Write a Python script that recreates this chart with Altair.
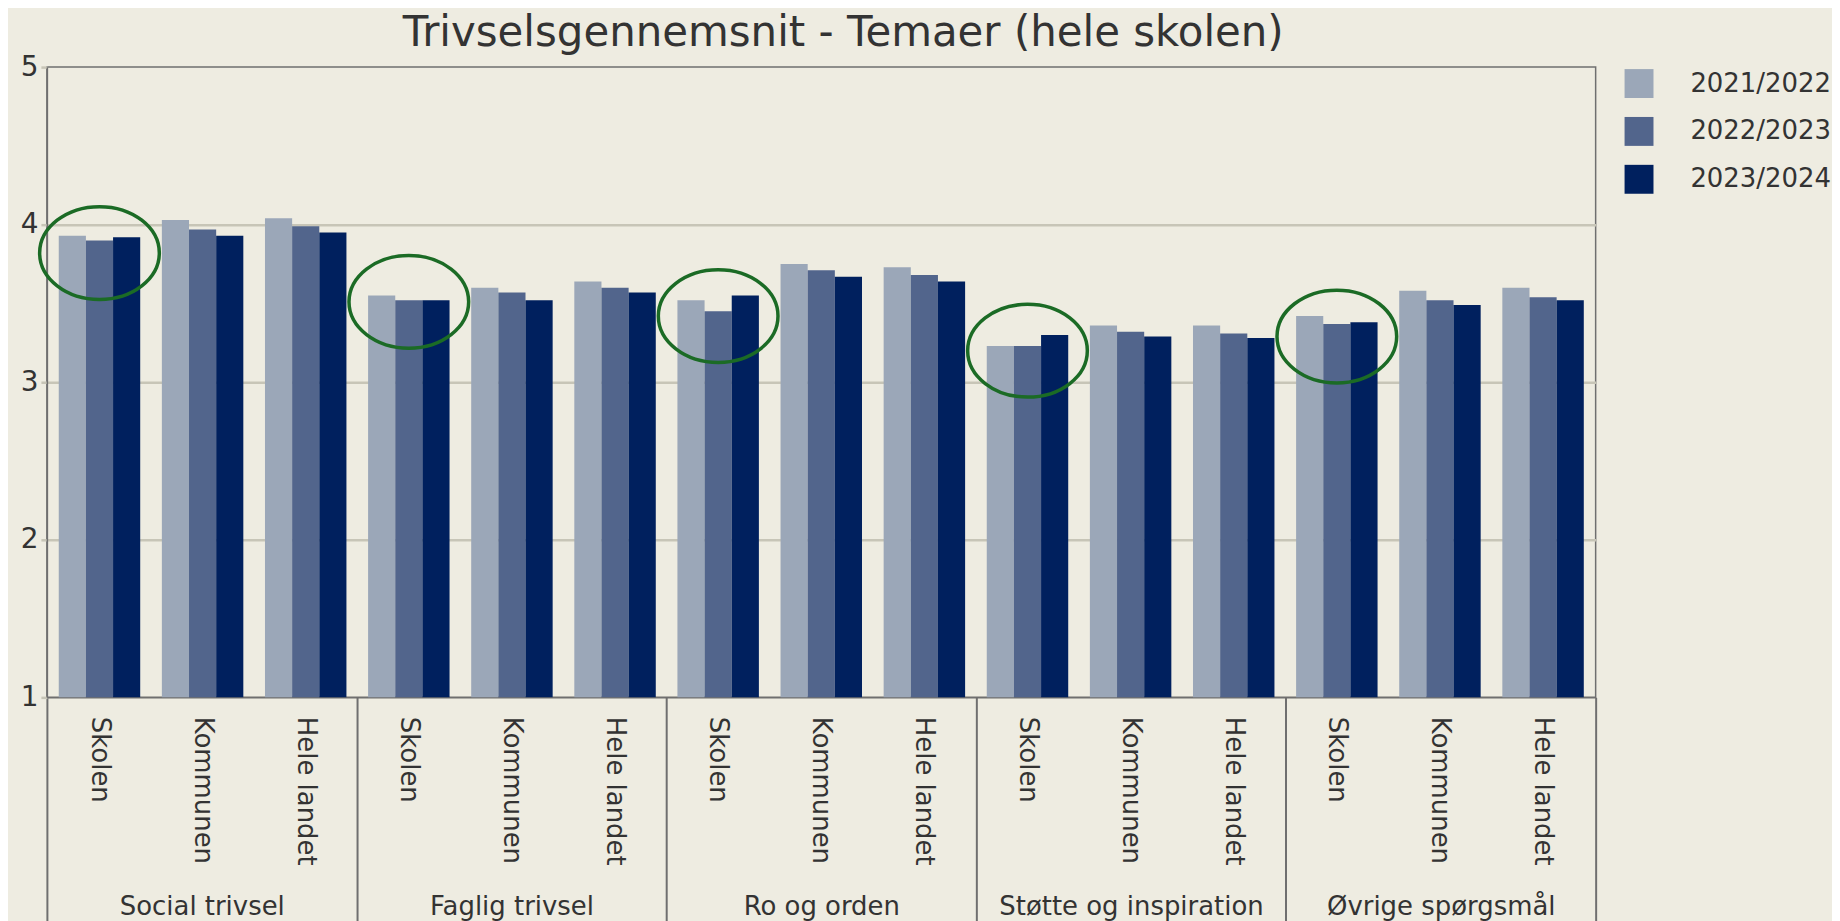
import altair as alt
import pandas as pd

groups = ["Social trivsel", "Faglig trivsel", "Ro og orden", "Støtte og inspiration", "Øvrige spørgsmål"]
subgroups = ["Skolen", "Kommunen", "Hele landet"]
years = ["2021/2022", "2022/2023", "2023/2024"]

# values per group: one [2021/2022, 2022/2023, 2023/2024] triple per subgroup
social = [[3.93, 3.90, 3.92], [4.03, 3.97, 3.93], [4.04, 3.99, 3.95]]
faglig = [[3.55, 3.52, 3.52], [3.60, 3.57, 3.52], [3.64, 3.60, 3.57]]
ro = [[3.52, 3.45, 3.55], [3.75, 3.71, 3.67], [3.73, 3.68, 3.64]]
stotte = [[3.23, 3.23, 3.30], [3.36, 3.32, 3.29], [3.36, 3.31, 3.28]]
ovrige = [[3.42, 3.37, 3.38], [3.58, 3.52, 3.49], [3.60, 3.54, 3.52]]

# green annotation ellipses around the "Skolen" clusters (centre value)
circle_values = [3.82, 3.51, 3.42, 3.20, 3.29]

colors = ["#9BA7B8", "#52658C", "#00205E"]
BG = "#EEECE1"
GRID = "#C7C5B7"
DARK = "#6F6F6F"
TXT = "#333333"
FONT = "DejaVu Sans"

rows = []
for g, vals in zip(groups, [social, faglig, ro, stotte, ovrige]):
    for s, triple in zip(subgroups, vals):
        for yr, v in zip(years, triple):
            rows.append({"group": g, "sub": s, "key": g + "|" + s, "year": yr, "value": v})
df = pd.DataFrame(rows)
keys = [g + "|" + s for g in groups for s in subgroups]

circ_df = pd.DataFrame({"key": [g + "|Skolen" for g in groups], "value": circle_values})
grp_df = pd.DataFrame({"group": groups})

W, H = 1553, 632

xscale = alt.Scale(domain=keys, paddingInner=0.21, paddingOuter=0.115)
yscale = alt.Scale(domain=[1, 5], nice=False, zero=False)

bars = alt.Chart(df).mark_bar().encode(
    x=alt.X(
        "key:N",
        scale=xscale,
        title=None,
        axis=alt.Axis(
            labelExpr="split(datum.value, '|')[1]",
            labelAngle=90,
            labelAlign="left",
            labelBaseline="middle",
            labelFontSize=26,
            labelPadding=19,
            labelFont=FONT,
            labelColor=TXT,
            labelLimit=0,
            ticks=False,
            grid=False,
            domainColor=DARK,
            domainWidth=1.5,
        ),
    ),
    xOffset=alt.XOffset("year:N", sort=years, scale=alt.Scale(paddingInner=0, paddingOuter=0)),
    y=alt.Y(
        "value:Q",
        scale=yscale,
        title=None,
        axis=alt.Axis(
            values=[1, 2, 3, 4, 5],
            format="d",
            labelFontSize=28,
            labelFont=FONT,
            labelColor=TXT,
            labelPadding=3,
            tickSize=6,
            tickColor=GRID,
            tickWidth=2.5,
            domainColor=DARK,
            domainWidth=1.5,
            grid=True,
            gridColor={"condition": {"test": "datum.value === 5 || datum.value === 1", "value": "rgba(0,0,0,0)"}, "value": GRID},
            gridWidth=2.5,
        ),
    ),
    y2=alt.datum(1),
    color=alt.Color(
        "year:N",
        sort=years,
        scale=alt.Scale(domain=years, range=colors),
        legend=alt.Legend(
            title=None,
            orient="none",
            legendX=1582,
            legendY=2,
            symbolType="square",
            symbolSize=841,
            symbolStrokeWidth=0,
            labelFontSize=26,
            labelFont=FONT,
            labelColor=TXT,
            labelOffset=37,
            rowPadding=19,
            padding=0,
        ),
    ),
)

ELLIPSE = "M -1 0 A 1 0.775 0 1 1 1 0 A 1 0.775 0 1 1 -1 0 Z"
circles = alt.Chart(circ_df).mark_point(
    shape=ELLIPSE, size=14400, filled=False, color="#1B6B25", strokeWidth=3.5, opacity=1
).encode(
    x=alt.X("key:N", scale=xscale),
    y=alt.Y("value:Q", scale=yscale),
)

grp = alt.Chart(grp_df).mark_bar(opacity=0).encode(
    x=alt.X(
        "group:N",
        scale=alt.Scale(domain=groups, paddingInner=0, paddingOuter=0),
        title=None,
        axis=alt.Axis(
            orient="bottom",
            domain=False,
            ticks=True,
            tickBand="extent",
            tickSize=228,
            tickColor=DARK,
            tickWidth=2,
            grid=False,
            labelAngle=0,
            labelAlign="center",
            labelBaseline="top",
            labelFontSize=26,
            labelFont=FONT,
            labelColor=TXT,
            labelLimit=0,
            labelPadding=-31,
        ),
    )
)

inner = alt.layer(bars, circles)
chart = (
    alt.layer(inner, grp)
    .resolve_scale(x="independent")
    .properties(
        width=W,
        height=H,
        background=BG,
        padding={"left": 12, "top": 3, "right": 0, "bottom": 0},
        title=alt.TitleParams(
            "Trivselsgennemsnit - Temaer (hele skolen)",
            fontSize=42,
            font=FONT,
            fontWeight="normal",
            color=TXT,
            anchor="middle",
            dx=22,
            offset=-2,
        ),
    )
    .configure_view(stroke=DARK, strokeWidth=1.5, fill=BG)
)

chart.save("out.html", embed_options={"renderer": "svg", "actions": False})
